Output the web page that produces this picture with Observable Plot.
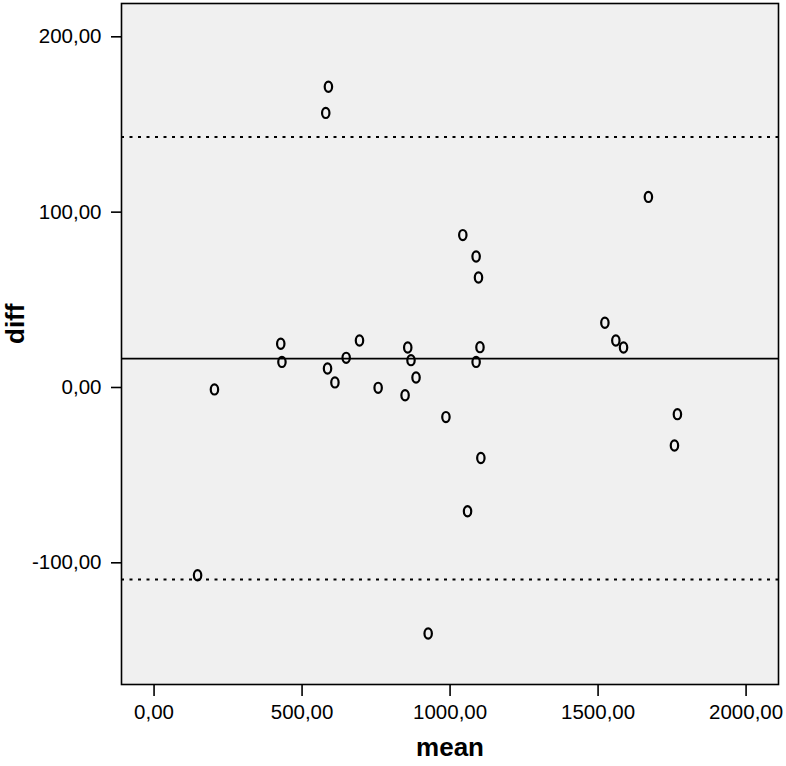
<!DOCTYPE html>
<html>
<head>
<meta charset="utf-8">
<script src="https://cdn.jsdelivr.net/npm/d3@7"></script>
<script src="https://cdn.jsdelivr.net/npm/@observablehq/plot@0.6"></script>
<style>
  html, body { margin: 0; padding: 0; background: #ffffff; }
  #chart svg { display: block; }
</style>
</head>
<body>
<div id="chart"></div>
<script>
// Bland–Altman data
const meanValues = [147, 204, 428, 432, 586, 611, 649, 694, 757, 857, 868, 885, 848, 986,
  1043, 1088, 1096, 1101, 1088, 1104, 1523, 1560, 1586, 1670, 1768, 1758, 589, 580, 1059, 926];
const diffValues = [-107.1, -1.1, 24.9, 14.6, 10.8, 2.9, 16.9, 26.8, -0.2, 22.8, 15.6, 5.7, -4.4, -16.9,
  86.9, 74.7, 62.7, 23.0, 14.6, -40.2, 36.9, 26.8, 22.8, 108.7, -15.2, -33.1, 171.5, 156.6, -70.6, -140.3];
const meanDiff = 16.5;
const limitsOfAgreement = [142.9, -109.5];
const xTicks = [0, 500, 1000, 1500, 2000];
const yTicks = [-100, 0, 100, 200];
const xLabel = "mean";
const yLabel = "diff";

const points = meanValues.map((m, i) => ({mean: m, diff: diffValues[i]}));
const fmt = d => d.toFixed(2).replace(".", ",");

// ellipse-shaped marker like the SPSS "o"
const ellipse = {
  draw(context, size) {
    const rx = 3.7, ry = 5.1, k = 0.5523;
    context.moveTo(rx, 0);
    context.bezierCurveTo(rx, ry * k, rx * k, ry, 0, ry);
    context.bezierCurveTo(-rx * k, ry, -rx, ry * k, -rx, 0);
    context.bezierCurveTo(-rx, -ry * k, -rx * k, -ry, 0, -ry);
    context.bezierCurveTo(rx * k, -ry, rx, -ry * k, rx, 0);
    context.closePath();
  }
};

const chart = Plot.plot({
  width: 786,
  height: 766,
  marginLeft: 121,
  marginRight: 8,
  marginTop: 3,
  marginBottom: 82,
  style: {fontFamily: "'Liberation Sans', Arial, sans-serif", fontSize: "20.5px", color: "#000", background: "#fff"},
  x: {domain: [-110, 2109.5]},
  y: {domain: [-169.4, 219]},
  marks: [
    Plot.frame({fill: "#f0f0f0", stroke: null}),
    Plot.ruleY([meanDiff], {stroke: "#000", strokeWidth: 1.7}),
    Plot.ruleY(limitsOfAgreement, {stroke: "#000", strokeWidth: 2, strokeDasharray: "3,5.5"}),
    Plot.dot(points, {x: "mean", y: "diff", symbol: ellipse, stroke: "#000", strokeWidth: 2.2, fill: "none"}),
    Plot.frame({stroke: "#000", strokeWidth: 1.6}),
    Plot.axisX({ticks: xTicks, tickFormat: fmt, tickSize: 12, tickPadding: 8, label: null, strokeWidth: 1.6, fontSize: 20.5}),
    Plot.axisY({ticks: yTicks, tickFormat: fmt, tickSize: 10, tickPadding: 10, label: null, strokeWidth: 1.6, fontSize: 20.5}),
    Plot.text([xLabel], {frameAnchor: "bottom", dy: 71, text: d => d, fontWeight: "bold", fontSize: 26, fill: "#000"}),
    Plot.text([yLabel], {frameAnchor: "left", dx: -106, rotate: -90, text: d => d, fontWeight: "bold", fontSize: 26, fill: "#000"})
  ]
});
document.getElementById("chart").appendChild(chart);
</script>
</body>
</html>
